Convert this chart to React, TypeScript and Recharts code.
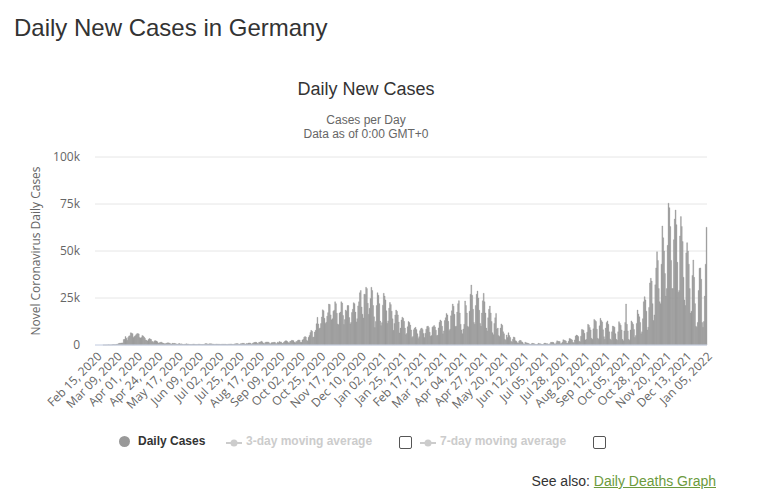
import { BarChart, Bar, XAxis, YAxis, CartesianGrid } from 'recharts'

// daily new cases in thousands, one array per month
const feb2020 = [0, 0, 0, 0, 0, 0, 0, 0, 0, 0.002, 0.01, 0.006, 0.03, 0.01, 0.04]
const mar2020 = [
  0.07, 0.03, 0.04, 0.06, 0.1, 0.2, 0.15, 0.2, 0.15, 0.35,
  0.4, 0.7, 0.9, 0.9, 1.0, 1.1, 1.1, 2.9, 3.0, 4.5,
  3.6, 2.5, 4.0, 4.8, 4.9, 6.5, 6.3, 6.0, 4.0, 4.5, 4.9,
]
const apr2020 = [
  5.5, 6.0, 6.1, 5.9, 4.0, 3.7, 4.0, 5.0, 4.8, 4.2,
  3.6, 2.6, 2.5, 2.1, 2.9, 3.4, 3.2, 2.9, 1.8, 1.8,
  1.3, 2.2, 2.3, 2.1, 1.7, 1.0, 1.1, 1.3, 1.5, 1.5,
]
const may2020 = [
  1.0, 0.9, 0.7, 0.6, 0.9, 1.0, 1.2, 1.1, 0.9, 0.6,
  0.5, 0.9, 0.8, 0.9, 0.8, 0.6, 0.5, 0.4, 0.6, 0.8,
  0.5, 0.6, 0.5, 0.3, 0.3, 0.4, 0.5, 0.6, 0.5, 0.5, 0.3,
]
const jun2020 = [
  0.3, 0.2, 0.3, 0.4, 0.5, 0.4, 0.3, 0.2, 0.3, 0.3,
  0.5, 0.4, 0.3, 0.2, 0.2, 0.3, 0.3, 0.6, 0.8, 0.6,
  0.5, 0.5, 0.6, 0.6, 0.6, 0.5, 0.5, 0.4, 0.3, 0.4,
]
const jul2020 = [
  0.5, 0.4, 0.4, 0.4, 0.3, 0.3, 0.4, 0.4, 0.4, 0.4,
  0.4, 0.3, 0.2, 0.4, 0.4, 0.5, 0.5, 0.5, 0.3, 0.3,
  0.5, 0.6, 0.6, 0.8, 0.7, 0.4, 0.4, 0.6, 0.7, 0.9, 0.9,
]
const aug2020 = [
  0.9, 0.5, 0.5, 0.8, 0.7, 1.0, 1.1, 1.0, 0.6, 0.4,
  1.0, 1.2, 1.4, 1.5, 1.4, 0.9, 0.6, 1.4, 1.5, 1.7,
  2.0, 1.5, 0.9, 0.7, 1.3, 1.6, 1.5, 1.6, 1.4, 0.8, 0.6,
]
const sep2020 = [
  1.2, 1.3, 1.3, 1.5, 1.4, 0.8, 0.7, 1.5, 1.2, 1.9,
  1.6, 1.6, 0.9, 0.9, 1.4, 1.9, 2.2, 2.2, 1.9, 1.3,
  1.0, 1.8, 2.1, 2.5, 2.4, 2.3, 1.4, 1.2, 1.8, 1.9,
]
const oct2020 = [
  2.5, 2.7, 2.5, 1.4, 1.4, 2.6, 3.0, 4.1, 4.5, 4.2,
  2.5, 2.1, 4.1, 5.1, 6.6, 7.8, 7.3, 4.0, 4.3, 6.9,
  7.8, 11.3, 14.7, 11.2, 8.7, 9.1, 11.4, 14.9, 18.7, 18.2, 14.2,
]
const nov2020 = [
  11.5, 12.1, 15.3, 17.2, 21.8, 21.5, 16.0, 13.4, 14.0, 18.0,
  18.5, 23.0, 22.0, 16.9, 11.2, 10.8, 17.0, 17.5, 23.0, 22.3,
  15.7, 10.9, 13.5, 18.6, 18.0, 21.0, 21.0, 14.6, 11.2, 12.0,
]
const dec2020 = [
  17.3, 19.0, 22.5, 22.0, 17.5, 12.3, 14.0, 20.8, 23.0, 27.8,
  29.0, 20.2, 16.4, 14.4, 27.0, 26.9, 30.7, 30.0, 22.2, 16.3,
  19.5, 24.7, 30.7, 29.0, 21.0, 15.0, 9.3, 12.5, 21.0, 27.8, 26.5,
]
const jan2021 = [
  22.0, 12.7, 10.3, 11.9, 21.2, 27.5, 26.0, 24.0, 18.2, 11.6,
  12.8, 19.6, 22.6, 21.5, 18.0, 13.9, 7.8, 11.4, 15.9, 18.6,
  17.9, 16.0, 12.2, 6.4, 9.0, 13.3, 14.8, 14.2, 12.6, 9.0, 5.5,
]
const feb2021 = [
  6.1, 9.7, 12.5, 12.0, 10.6, 8.0, 4.0, 4.5, 8.1, 9.0,
  9.4, 8.2, 6.0, 3.4, 4.4, 7.6, 8.6, 9.0, 8.2, 6.1,
  4.0, 6.2, 8.4, 9.8, 10.1, 9.3, 6.8, 4.7,
]
const mar2021 = [
  5.0, 9.5, 9.9, 10.4, 9.6, 7.9, 5.0, 5.2, 9.1, 12.1,
  13.3, 12.7, 10.0, 6.0, 7.5, 13.0, 14.5, 16.8, 16.0, 12.6,
  7.7, 8.4, 15.5, 18.2, 21.8, 20.6, 16.3, 9.9, 10.0, 17.5, 22.0,
]
const apr2021 = [
  23.6, 17.0, 11.0, 8.0, 6.0, 8.5, 11.0, 23.4, 21.0, 17.0,
  10.0, 9.5, 18.0, 27.0, 31.9, 26.5, 19.0, 12.0, 11.0, 21.0,
  27.0, 28.7, 25.0, 18.5, 11.5, 10.0, 17.0, 23.5, 27.5, 23.0,
]
const may2021 = [
  17.0, 9.0, 7.5, 14.5, 19.0, 20.7, 17.0, 12.5, 6.5, 5.5,
  11.5, 14.5, 16.8, 8.5, 9.0, 5.0, 4.5, 9.0, 11.2, 10.5,
  7.0, 6.0, 3.0, 2.5, 5.3, 4.0, 6.5, 5.0, 4.0, 2.0, 1.5,
]
const jun2021 = [
  3.0, 4.3, 4.0, 2.3, 2.0, 1.2, 1.0, 2.0, 2.5, 2.4,
  1.7, 1.4, 0.6, 0.5, 1.5, 1.2, 1.1, 0.9, 0.8, 0.4,
  0.3, 0.6, 0.9, 0.8, 0.7, 0.5, 0.3, 0.2, 0.5, 0.9,
]
const jul2021 = [
  0.7, 0.6, 0.5, 0.3, 0.2, 0.6, 1.0, 0.9, 0.7, 0.7,
  0.4, 0.4, 0.7, 1.5, 1.4, 1.5, 1.3, 0.6, 0.5, 1.2,
  2.2, 2.0, 1.9, 1.8, 0.7, 0.8, 1.5, 2.8, 2.5, 2.4, 2.1,
]
const aug2021 = [
  1.0, 0.9, 2.0, 3.5, 3.3, 3.0, 2.7, 1.3, 1.2, 2.7,
  4.8, 5.3, 5.0, 4.5, 2.0, 1.7, 4.7, 8.3, 8.1, 7.8,
  6.2, 2.6, 3.0, 6.8, 11.0, 10.5, 9.3, 8.0, 3.6, 3.0, 8.6,
]
const sep2021 = [
  13.6, 13.0, 12.5, 8.4, 3.6, 3.1, 10.2, 14.2, 13.0, 12.3,
  8.1, 4.4, 3.0, 9.0, 12.0, 12.8, 11.0, 7.0, 3.2, 2.5,
  7.0, 10.1, 9.8, 9.5, 6.0, 3.0, 2.5, 7.0, 12.4, 11.5,
]
const oct2021 = [
  10.5, 8.0, 3.0, 2.3, 7.5, 12.0, 21.8, 11.0, 7.5, 3.0,
  2.5, 8.0, 12.8, 12.0, 11.0, 8.2, 4.0, 5.0, 11.5, 18.6,
  16.5, 15.0, 12.0, 6.0, 7.0, 14.0, 23.0, 25.7, 24.0, 18.0, 8.0,
]
const nov2021 = [
  9.5, 20.0, 33.0, 35.5, 34.0, 22.0, 13.0, 16.0, 32.0, 41.0,
  49.6, 45.0, 30.0, 23.0, 22.0, 43.0, 63.3, 57.0, 50.0, 38.0,
  26.0, 30.0, 53.0, 75.4, 73.0, 63.0, 45.0, 30.0, 30.0, 56.0,
]
const dec2021 = [
  67.0, 71.8, 64.0, 44.0, 28.0, 29.0, 58.0, 68.3, 63.0, 55.0,
  36.0, 24.0, 21.0, 49.0, 54.4, 50.0, 43.0, 30.0, 17.0, 18.0,
  37.0, 45.2, 36.0, 22.0, 10.0, 9.5, 12.0, 29.0, 40.8, 41.0, 35.0,
]
const jan2022 = [12.0, 9.5, 12.5, 26.0, 43.0, 62.6]

const dailyCases = [
  ...feb2020, ...mar2020, ...apr2020, ...may2020, ...jun2020, ...jul2020,
  ...aug2020, ...sep2020, ...oct2020, ...nov2020, ...dec2020,
  ...jan2021, ...feb2021, ...mar2021, ...apr2021, ...may2021, ...jun2021,
  ...jul2021, ...aug2021, ...sep2021, ...oct2021, ...nov2021, ...dec2021,
  ...jan2022,
]

const MONTHS = ['Jan', 'Feb', 'Mar', 'Apr', 'May', 'Jun', 'Jul', 'Aug', 'Sep', 'Oct', 'Nov', 'Dec']
const FIRST_DAY = Date.UTC(2020, 1, 15)

const yTicks = [0, 25000, 50000, 75000, 100000]
const yTickLabels = ['0', '25k', '50k', '75k', '100k']

function dayLabel(i: number) {
  const d = new Date(FIRST_DAY + i * 86400000)
  const day = String(d.getUTCDate()).padStart(2, '0')
  return `${MONTHS[d.getUTCMonth()]} ${day}, ${d.getUTCFullYear()}`
}

const data = dailyCases.map((v, i) => ({ date: dayLabel(i), cases: Math.round(v * 1000) }))

const FONT = '"Open Sans", "DejaVu Sans", sans-serif'
const ARIAL = '"Liberation Sans", Arial, sans-serif'

function DateTick({ x, y, payload }: any) {
  return (
    <text
      x={x}
      y={y}
      dy={8}
      dx={2}
      textAnchor="end"
      transform={`rotate(-45 ${x} ${y})`}
      fontSize={12}
      fill="#666"
      fontFamily={FONT}
    >
      {payload.value}
    </text>
  )
}

function LineIcon() {
  return (
    <svg width={16} height={10} style={{ position: 'absolute', left: 0, top: 4 }}>
      <line x1={0} y1={5} x2={16} y2={5} stroke="#ccc" strokeWidth={2} />
      <circle cx={8} cy={5} r={3.5} fill="#ccc" />
    </svg>
  )
}

function Checkbox({ left }: { left: number }) {
  return (
    <div
      style={{
        position: 'absolute',
        left,
        top: 436,
        width: 11,
        height: 11,
        border: '1px solid #555',
        borderRadius: 2,
        background: '#fff',
      }}
    />
  )
}

export default function App() {
  return (
    <div style={{ position: 'absolute', left: 0, top: 0, width: 757, height: 498, background: '#fff' }}>
      <div
        style={{
          position: 'absolute',
          left: 14,
          top: 16,
          fontFamily: ARIAL,
          fontSize: 24,
          lineHeight: '24px',
          color: '#333',
          whiteSpace: 'nowrap',
        }}
      >
        Daily New Cases in Germany
      </div>

      <div style={{ position: 'absolute', left: 0, top: 0 }}>
        <BarChart
          width={757}
          height={498}
          data={data}
          margin={{ top: 157, right: 50, bottom: 83, left: 31 }}
          barCategoryGap={0}
        >
          <CartesianGrid horizontal vertical={false} stroke="#e6e6e6" />
          <XAxis
            dataKey="date"
            interval={22}
            tickLine={false}
            axisLine={{ stroke: '#ccd6eb' }}
            height={70}
            tick={<DateTick />}
          />
          <YAxis
            width={64}
            domain={[0, 100000]}
            ticks={yTicks}
            tickFormatter={(v: number) => yTickLabels[yTicks.indexOf(v)]}
            axisLine={false}
            tickLine={false}
            tickMargin={9}
            tick={{ fontSize: 12, fill: '#666', fontFamily: FONT }}
            label={{
              value: 'Novel Coronavirus Daily Cases',
              angle: -90,
              position: 'insideLeft',
              offset: 5,
              style: { textAnchor: 'middle', fontSize: 12, fill: '#666', fontFamily: FONT },
            }}
          />
          <Bar
            dataKey="cases"
            fill="#999999"
            stroke="#999999"
            strokeWidth={0.35}
            isAnimationActive={false}
          />
        </BarChart>
      </div>

      <div
        style={{
          position: 'absolute',
          left: 266,
          width: 200,
          top: 79,
          textAlign: 'center',
          fontFamily: ARIAL,
          fontSize: 18,
          color: '#333',
        }}
      >
        Daily New Cases
      </div>
      <div
        style={{
          position: 'absolute',
          left: 266,
          width: 200,
          top: 113,
          textAlign: 'center',
          fontFamily: ARIAL,
          fontSize: 12,
          lineHeight: '14px',
          color: '#666',
        }}
      >
        Cases per Day
        <br />
        Data as of 0:00 GMT+0
      </div>

      {/* legend */}
      <div
        style={{
          position: 'absolute',
          left: 119,
          top: 436,
          width: 11,
          height: 11,
          borderRadius: '50%',
          background: '#999',
        }}
      />
      <div
        style={{
          position: 'absolute',
          left: 138,
          top: 434,
          fontFamily: ARIAL,
          fontSize: 12,
          fontWeight: 'bold',
          color: '#333',
          whiteSpace: 'nowrap',
        }}
      >
        Daily Cases
      </div>
      <div
        style={{
          position: 'absolute',
          left: 226,
          top: 434,
          paddingLeft: 20,
          fontFamily: ARIAL,
          fontSize: 12,
          fontWeight: 'bold',
          color: '#ccc',
          whiteSpace: 'nowrap',
        }}
      >
        <LineIcon />
        3-day moving average
      </div>
      <Checkbox left={399} />
      <div
        style={{
          position: 'absolute',
          left: 420,
          top: 434,
          paddingLeft: 20,
          fontFamily: ARIAL,
          fontSize: 12,
          fontWeight: 'bold',
          color: '#ccc',
          whiteSpace: 'nowrap',
        }}
      >
        <LineIcon />
        7-day moving average
      </div>
      <Checkbox left={593} />

      <div
        style={{
          position: 'absolute',
          right: 41,
          top: 473,
          fontFamily: ARIAL,
          fontSize: 14,
          color: '#333',
          whiteSpace: 'nowrap',
        }}
      >
        See also:{' '}
        <span style={{ color: '#6c9a3d', textDecoration: 'underline' }}>Daily Deaths Graph</span>
      </div>
    </div>
  )
}
